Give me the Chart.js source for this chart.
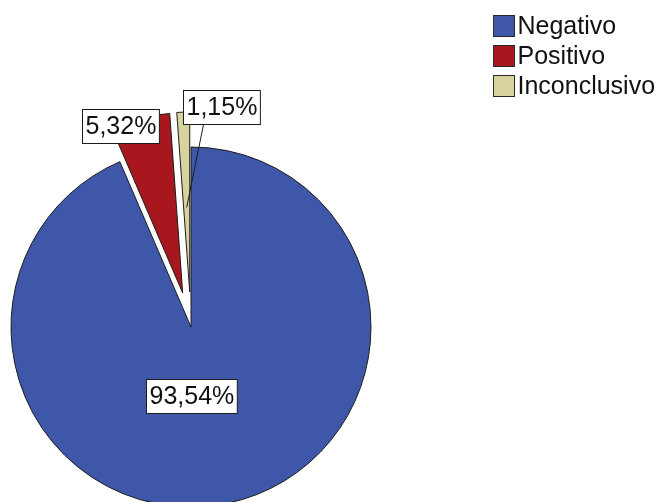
<!DOCTYPE html>
<html>
<head>
<meta charset="utf-8">
<title>Resultado</title>
<script src="https://cdn.jsdelivr.net/npm/chart.js@4/dist/chart.umd.min.js"></script>
<style>
    html, body { margin: 0; padding: 0; background: #ffffff; }
    #wrap { width: 658px; height: 502px; position: relative; overflow: hidden; }
</style>
</head>
<body>
<div id="wrap"><canvas id="pieChart"></canvas></div>
<script>
// ── Data ─────────────────────────────────────────────────────────────────────

const categories = ['Negativo', 'Positivo', 'Inconclusivo'];
const percents   = [93.54, 5.32, 1.15];

// ── Look ─────────────────────────────────────────────────────────────────────

const COLORS  = ['#3E57A9', '#A8171E', '#D8D39E'];
const EDGE    = '#1c1c1c';
const FONT    = "'Liberation Sans', Arial, sans-serif";
const EXPLODE = [0, 35, 35];          // px each slice is pulled out along its bisector

// label anchor: angle clockwise from 12 o'clock (deg), distance as fraction of radius
const LABEL_AT = [
    { deg: 180,   r: 0.385 },
    { deg: 339.5, r: 0.99 },
    { deg: 9.7,   r: 1.045, leader: 0.47 }
];

function fmt(v) {
    return v.toFixed(2).replace('.', ',') + '%';
}

function polar(cx, cy, deg, dist) {
    const a = (deg - 90) * Math.PI / 180;
    return { x: cx + Math.cos(a) * dist, y: cy + Math.sin(a) * dist };
}

// ── Plugins ──────────────────────────────────────────────────────────────────

// shift the small slices out from the centre
const explodePlugin = {
    id: 'explode',
    afterDatasetsUpdate(chart) {
        chart.getDatasetMeta(0).data.forEach((arc, i) => {
            const d = EXPLODE[i] || 0;
            if (!d) return;
            const mid = (arc.startAngle + arc.endAngle) / 2;
            arc.x += Math.cos(mid) * d;
            arc.y += Math.sin(mid) * d;
        });
    }
};

// boxed percentage labels
const boxLabels = {
    id: 'boxLabels',
    afterDatasetsDraw(chart) {
        const ctx = chart.ctx;
        const arcs = chart.getDatasetMeta(0).data;
        ctx.save();
        ctx.font = `25px ${FONT}`;
        ctx.textAlign = 'center';
        ctx.textBaseline = 'middle';
        arcs.forEach((arc, i) => {
            const spec = LABEL_AT[i];
            const R = arc.outerRadius;
            const p = polar(arc.x, arc.y, spec.deg, R * spec.r);
            const txt = fmt(percents[i]);
            const w = ctx.measureText(txt).width + 6;
            const h = 34;
            const left = Math.round(p.x - w / 2) + 0.5;
            const top  = Math.round(p.y - h / 2) + 0.5;

            if (spec.leader) {
                const mid = (arc.startAngle + arc.endAngle) / 2;
                ctx.beginPath();
                ctx.moveTo(arc.x + Math.cos(mid) * R * spec.leader, arc.y + Math.sin(mid) * R * spec.leader);
                ctx.lineTo(left + 20, top + h);
                ctx.strokeStyle = '#1c1c1c';
                ctx.lineWidth = 1;
                ctx.stroke();
            }

            ctx.fillStyle = '#ffffff';
            ctx.fillRect(left, top, w, h);
            ctx.strokeStyle = '#1c1c1c';
            ctx.lineWidth = 1;
            ctx.strokeRect(left, top, w, h);
            ctx.fillStyle = '#111111';
            ctx.fillText(txt, left + w / 2, top + h / 2 + 1);
        });
        ctx.restore();
    }
};

// legend in the top right corner
const cornerLegend = {
    id: 'cornerLegend',
    afterDraw(chart) {
        const ctx = chart.ctx;
        ctx.save();
        ctx.font = `25px ${FONT}`;
        ctx.textAlign = 'left';
        ctx.textBaseline = 'middle';
        categories.forEach((name, i) => {
            const x = 493.5, y = 15.5 + i * 30;
            ctx.fillStyle = COLORS[i];
            ctx.fillRect(x, y, 21, 21);
            ctx.strokeStyle = '#2a2a2a';
            ctx.lineWidth = 1;
            ctx.strokeRect(x, y, 21, 21);
            ctx.fillStyle = '#111111';
            ctx.fillText(name, x + 24, y + 11.5);
        });
        ctx.restore();
    }
};

// ── Chart ────────────────────────────────────────────────────────────────────

new Chart(document.getElementById('pieChart'), {
    type: 'pie',
    data: {
        labels: categories,
        datasets: [{
            data: percents,
            backgroundColor: COLORS,
            borderColor: EDGE,
            borderWidth: 1,
            hoverOffset: 0
        }]
    },
    options: {
        responsive: true,
        maintainAspectRatio: false,
        animation: false,
        events: [],
        radius: 180,
        layout: { padding: { left: 0, right: 276, top: 152, bottom: 0 } },
        plugins: {
            legend:  { display: false },
            tooltip: { enabled: false }
        }
    },
    plugins: [explodePlugin, boxLabels, cornerLegend]
});
</script>
</body>
</html>
